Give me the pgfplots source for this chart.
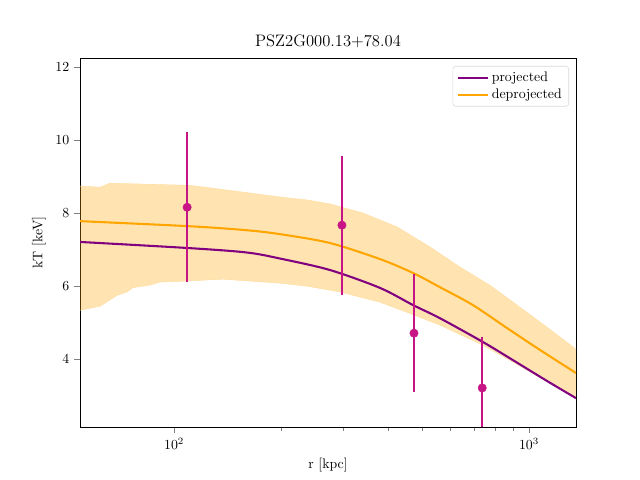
\documentclass[border=0pt]{standalone}
\usepackage{pgfplots}
\pgfplotsset{compat=1.18}
\usepgfplotslibrary{fillbetween}

\definecolor{proj}{HTML}{800080}
\definecolor{deproj}{HTML}{FFA500}
\definecolor{pts}{HTML}{C71585}

\begin{document}
\begin{tikzpicture}
\begin{axis}[
  scale only axis,
  width=4.96in, height=3.69in,
  xmode=log,
  xmin=54.3, xmax=1356,
  ymin=2.14, ymax=12.25,
  ytick={4,6,8,10,12},
  xtick={100,1000},
  xticklabels={$10^2$,$10^3$},
  tick align=outside,
  tick pos=left,
  minor y tick num=0,
  title={PSZ2G000.13+78.04},
  title style={font=\large, yshift=-2pt},
  xlabel={r [kpc]},
  ylabel={kT [keV]},
  ticklabel style={font=\normalsize},
  label style={font=\normalsize},
  legend style={at={(1,1)}, anchor=north east, xshift=-0.07in, yshift=-0.08in,
    draw=black!15, rounded corners=2pt, font=\normalsize,
    legend cell align=left, inner xsep=3pt, inner ysep=2pt,
    nodes={inner sep=2pt}},
  legend image code/.code={\draw[#1] (0cm,0cm) -- (0.76cm,0cm);},
]
\addlegendimage{proj, line width=1.5pt}
\addlegendentry{projected}
\addlegendimage{deproj, line width=1.5pt}
\addlegendentry{deprojected}

% upper and lower bounds of the deprojected profile
\addplot[name path=up, draw=deproj!40, line width=0.3pt, forget plot] coordinates {
 (54.3,8.74) (61.9,8.71) (66.0,8.82) (110.9,8.76) (128.8,8.68) (160.6,8.56)
 (198.9,8.44) (236.9,8.36) (275,8.25) (340.8,8.00) (424.9,7.62) (526.1,7.07)
 (639.1,6.52) (776.2,6.02) (961.6,5.36) (1150,4.80) (1356,4.27)};
\addplot[name path=lo, draw=deproj!40, line width=0.3pt, forget plot] coordinates {
 (54.3,5.34) (61.9,5.45) (69.1,5.75) (73.7,5.84) (76.6,5.96) (85.6,6.03)
 (91.3,6.11) (108.8,6.14) (137.4,6.19) (198.9,6.08) (236.9,6.00) (293.5,5.84)
 (380.4,5.56) (471.2,5.22) (561,4.93) (727.8,4.42) (901.5,3.92) (1124,3.38) (1356,2.96)};
\addplot[fill=deproj, fill opacity=0.3, draw=none, forget plot] fill between[of=up and lo];

\addplot[proj, line width=1.5pt, smooth, forget plot] coordinates {
 (54.3,7.21) (110.9,7.04) (160.6,6.92) (200,6.75) (275,6.44) (380.4,5.95)
 (471.2,5.48) (561,5.12) (741,4.47) (901.5,3.97) (1124,3.40) (1356,2.93)};
\addplot[deproj, line width=1.5pt, smooth, forget plot] coordinates {
 (54.3,7.78) (110.9,7.64) (160.6,7.53) (200,7.42) (275,7.18) (380.4,6.74)
 (471.2,6.36) (561,5.97) (695,5.48) (867,4.85) (1074,4.25) (1356,3.62)};

\addplot[only marks, mark=*, mark size=3pt, color=pts, forget plot,
  error bars/.cd, y dir=both, y explicit,
  error bar style={line width=1.5pt, color=pts}, error mark=none]
 coordinates {
  (108.8,8.16) +- (0,2.05)
  (297,7.67) +- (0,1.90)
  (474,4.71) +- (0,1.62)
  (738,3.21) +- (0,1.40)
 };
\end{axis}
\path (current axis.south west) ++(-0.8in,-0.53in) (current axis.north east) ++(0.64in,0.58in);
\end{tikzpicture}
\end{document}
